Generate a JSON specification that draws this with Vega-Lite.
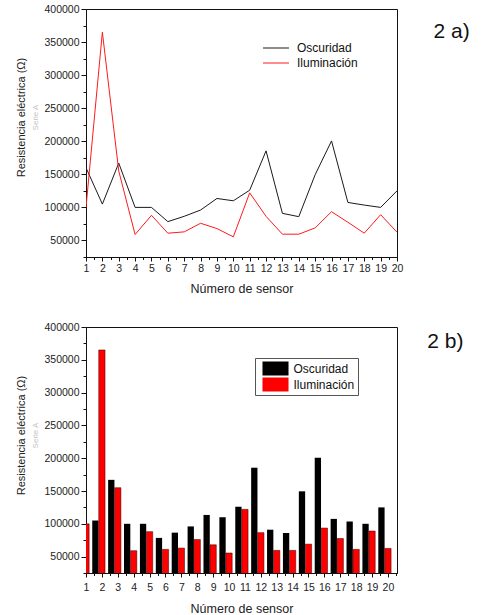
{
  "$schema": "https://vega.github.io/schema/vega-lite/v6.json",
  "background": "white",
  "padding": {"left": 14, "top": 3, "right": 0, "bottom": 0},
  "spacing": 25,
  "datasets": {
    "sensores": [
      {"sensor": 1, "oscuridad": 160000, "iluminacion": 100000},
      {"sensor": 2, "oscuridad": 105000, "iluminacion": 365000},
      {"sensor": 3, "oscuridad": 167000, "iluminacion": 155000},
      {"sensor": 4, "oscuridad": 100000, "iluminacion": 59000},
      {"sensor": 5, "oscuridad": 100000, "iluminacion": 88000},
      {"sensor": 6, "oscuridad": 78500, "iluminacion": 61000},
      {"sensor": 7, "oscuridad": 86500, "iluminacion": 63000},
      {"sensor": 8, "oscuridad": 96000, "iluminacion": 76000},
      {"sensor": 9, "oscuridad": 113500, "iluminacion": 68000},
      {"sensor": 10, "oscuridad": 110000, "iluminacion": 55500},
      {"sensor": 11, "oscuridad": 126000, "iluminacion": 122000},
      {"sensor": 12, "oscuridad": 185500, "iluminacion": 86500},
      {"sensor": 13, "oscuridad": 91000, "iluminacion": 59500},
      {"sensor": 14, "oscuridad": 86000, "iluminacion": 59500},
      {"sensor": 15, "oscuridad": 149500, "iluminacion": 69000},
      {"sensor": 16, "oscuridad": 200500, "iluminacion": 93500},
      {"sensor": 17, "oscuridad": 107500, "iluminacion": 77500},
      {"sensor": 18, "oscuridad": 103500, "iluminacion": 61000},
      {"sensor": 19, "oscuridad": 100000, "iluminacion": 89000},
      {"sensor": 20, "oscuridad": 125000, "iluminacion": 62500}
    ]
  },
  "config": {
    "font": "Liberation Sans",
    "view": {"stroke": "#111", "strokeWidth": 1},
    "axis": {
      "grid": false,
      "domainColor": "#111",
      "domainWidth": 1,
      "tickColor": "#111",
      "labelColor": "#222",
      "labelFont": "Liberation Sans",
      "labelFontSize": 10.5,
      "titleFont": "Liberation Sans",
      "titleFontWeight": "normal",
      "titleColor": "#222"
    },
    "legend": {"labelFont": "Liberation Sans", "labelFontSize": 12, "labelColor": "#111"}
  },
  "resolve": {"scale": {"color": "independent"}, "legend": {"color": "independent"}},
  "vconcat": [
    {
      "width": 311,
      "height": 248,
      "title": {"text": "2 a)", "orient": "right", "anchor": "start", "angle": 0, "align": "left", "baseline": "top", "offset": -5.5, "dy": 17, "fontSize": 21, "fontWeight": "normal", "color": "#111", "font": "Liberation Sans"},
      "data": {"name": "sensores"},
      "encoding": {
        "x": {
          "field": "sensor", "type": "quantitative",
          "scale": {"domain": [1, 20], "nice": false, "zero": false, "padding": 0},
          "axis": {
            "title": "Número de sensor", "titleFontSize": 12.5, "titlePadding": 9,
            "values": [1,1.5,2,2.5,3,3.5,4,4.5,5,5.5,6,6.5,7,7.5,8,8.5,9,9.5,10,10.5,11,11.5,12,12.5,13,13.5,14,14.5,15,15.5,16,16.5,17,17.5,18,18.5,19,19.5,20],
            "labelExpr": "datum.value % 1 === 0 ? format(datum.value, 'd') : ''",
            "tickSize": {"condition": {"test": "datum.value % 1 === 0", "value": 4}, "value": 2.5},
            "labelPadding": 2, "labelAngle": 0, "labelOverlap": false, "labelFlush": false
          }
        }
      },
      "layer": [
        {
          "mark": {"type": "line", "strokeWidth": 1, "clip": true},
          "encoding": {
            "y": {
              "field": "oscuridad", "type": "quantitative",
              "scale": {"domain": [25000, 400000], "nice": false, "zero": false},
              "axis": {
                "orient": "left", "title": "Serie A", "titleFontSize": 8, "titleColor": "#c4c4c4", "titlePadding": 4, "titleY": 108,
                "values": [25000,50000,75000,100000,125000,150000,175000,200000,225000,250000,275000,300000,325000,350000,375000,400000],
                "labelExpr": "datum.value % 50000 === 0 ? format(datum.value, 'd') : ''",
                "tickSize": {"condition": {"test": "datum.value % 50000 === 0", "value": 5}, "value": 3},
                "labelPadding": 2, "labelOverlap": false, "labelFlush": false
              }
            },
            "color": {
              "datum": "Oscuridad", "type": "nominal",
              "scale": {"domain": ["Oscuridad", "Iluminación"], "range": ["#1a1a1a", "#ff1a1a"]},
              "legend": {"orient": "none", "legendX": 176, "legendY": 33, "title": null, "symbolType": "M-2.6,0H2.6", "symbolSize": 100, "symbolStrokeWidth": 1, "symbolOffset": 8, "labelOffset": 15, "rowPadding": 3, "padding": 0}
            }
          }
        },
        {
          "mark": {"type": "line", "strokeWidth": 1, "clip": true},
          "encoding": {
            "y": {
              "field": "iluminacion", "type": "quantitative",
              "scale": {"domain": [25000, 400000], "nice": false, "zero": false},
              "axis": {"orient": "left", "title": "Resistencia eléctrica (Ω)", "titleFontSize": 11, "titlePadding": 60, "titleY": 108, "labels": false, "ticks": false, "domain": false}
            },
            "color": {"datum": "Iluminación", "type": "nominal"}
          }
        }
      ],
      "resolve": {"axis": {"y": "independent"}}
    },
    {
      "width": 311,
      "height": 246,
      "title": {"text": "2 b)", "orient": "right", "anchor": "start", "angle": 0, "align": "left", "baseline": "top", "offset": -6, "dy": 9, "fontSize": 21, "fontWeight": "normal", "color": "#111", "font": "Liberation Sans"},
      "data": {"name": "sensores"},
      "encoding": {
        "x": {
          "field": "sensor", "type": "quantitative",
          "scale": {"domain": [1, 20.57], "nice": false, "zero": false, "padding": 0},
          "axis": {
            "title": "Número de sensor", "titleFontSize": 12.5, "titlePadding": 10,
            "values": [1,1.5,2,2.5,3,3.5,4,4.5,5,5.5,6,6.5,7,7.5,8,8.5,9,9.5,10,10.5,11,11.5,12,12.5,13,13.5,14,14.5,15,15.5,16,16.5,17,17.5,18,18.5,19,19.5,20,20.5],
            "labelExpr": "datum.value % 1 === 0 ? format(datum.value, 'd') : ''",
            "tickSize": {"condition": {"test": "datum.value % 1 === 0", "value": 4}, "value": 2.5},
            "labelPadding": 5, "labelAngle": 0, "labelOverlap": false, "labelFlush": false
          }
        }
      },
      "layer": [
        {
          "mark": {"type": "bar", "width": 6.3, "xOffset": -6.5, "clip": true, "strokeWidth": 0},
          "encoding": {
            "y": {
              "field": "oscuridad", "type": "quantitative",
              "scale": {"domain": [25000, 400000], "nice": false, "zero": false},
              "axis": {
                "orient": "left", "title": "Serie A", "titleFontSize": 8, "titleColor": "#c4c4c4", "titlePadding": 4, "titleY": 108,
                "values": [25000,50000,75000,100000,125000,150000,175000,200000,225000,250000,275000,300000,325000,350000,375000,400000],
                "labelExpr": "datum.value % 50000 === 0 ? format(datum.value, 'd') : ''",
                "tickSize": {"condition": {"test": "datum.value % 50000 === 0", "value": 5}, "value": 3},
                "labelPadding": 2, "labelOverlap": false, "labelFlush": false
              }
            },
            "color": {
              "datum": "Oscuridad", "type": "nominal",
              "scale": {"domain": ["Oscuridad", "Iluminación"], "range": ["#000000", "#ff0000"]},
              "legend": {"orient": "none", "legendX": 169, "legendY": 31, "title": null, "symbolType": "M-1.86,-1H1.86V1H-1.86Z", "symbolSize": 196, "symbolStrokeWidth": 0, "symbolOffset": 10, "labelOffset": 11, "rowPadding": 2, "padding": 3.5, "strokeColor": "#555", "fillColor": "white"}
            }
          }
        },
        {
          "mark": {"type": "bar", "width": 6.3, "xOffset": 0, "clip": true, "stroke": "#300", "strokeWidth": 0.5},
          "encoding": {
            "y": {
              "field": "iluminacion", "type": "quantitative",
              "scale": {"domain": [25000, 400000], "nice": false, "zero": false},
              "axis": {"orient": "left", "title": "Resistencia eléctrica (Ω)", "titleFontSize": 11, "titlePadding": 60, "titleY": 108, "labels": false, "ticks": false, "domain": false}
            },
            "color": {"datum": "Iluminación", "type": "nominal"}
          }
        }
      ],
      "resolve": {"axis": {"y": "independent"}}
    }
  ]
}
